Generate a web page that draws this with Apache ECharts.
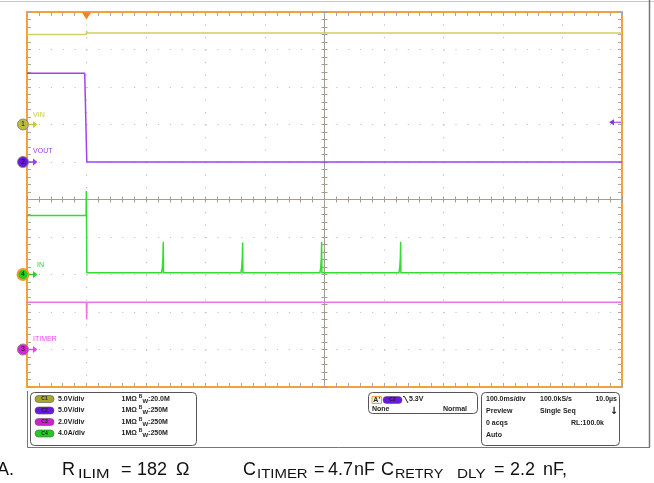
<!DOCTYPE html>
<html><head><meta charset="utf-8">
<script src="https://cdn.jsdelivr.net/npm/echarts@6/dist/echarts.min.js"></script>
<style>html,body{margin:0;padding:0;background:#fff}#c{width:654px;height:483px}</style>
</head><body><div id="c"></div><script>
// ---- data (time in ms, 100 ms/div) ----
const timeVin   = [0, 99.6, 100.1, 100.8, 1000];
const vin       = [12.0, 12.0, 12.5, 12.2, 12.2];          // CH1, V
const timeVout  = [0, 97, 99.6, 100.5, 1000];
const vout      = [11.85, 11.85, 11.6, 0, 0];               // CH2, V
const timeIin   = [0, 99.3, 99.7, 100.6,
                   226, 227.5, 228.5, 229, 229.4,
                   359.4, 360.9, 361.9, 362.4, 362.8,
                   492.2, 493.7, 494.7, 495.2, 495.6,
                   625, 626.5, 627.5, 628, 628.4, 1000];
const iin       = [6.3, 6.3, 8.9, 0.18,
                   0.18, 0.7, 1.8, 3.5, 0.18,
                   0.18, 0.7, 1.8, 3.4, 0.18,
                   0.18, 0.7, 1.8, 3.5, 0.18,
                   0.18, 0.7, 1.8, 3.5, 0.18, 0.18];      // CH4, A
const timeTimer = [0, 99.8, 100.3, 100.8, 1000];
const vtimer    = [2.52, 2.52, 1.6, 2.52, 2.52];            // CH3, V
const trigTime = 100, trigLevel = 5.3;
const chNames = ['VIN', 'VOUT', 'ITIMER', 'IN'];

const pairs = (t, v) => t.map((x, i) => [x, v[i]]);

const ORANGE = '#f4a13a', TICK = '#a8a8a8', DOT = '#c4c4c4', CROSS = '#a99c8c';
const C = {vin:'#d0d060', vout:'#a040f0', tim:'#f070f0', iin:'#30dd30'};

function xa(pos, extra) {
  return Object.assign({type:'value', min:0, max:1000, interval:100, position:pos,
    axisLabel:{show:false}, splitLine:{show:false},
    axisLine:{show:true, onZero:false, lineStyle:{color:ORANGE, width:2}},
    axisTick:{show:true, inside:true, length:4, lineStyle:{color:TICK}},
    minorTick:{show:true, splitNumber:5, length:4, lineStyle:{color:TICK}}}, extra||{});
}
function ya(pos, extra) {
  return Object.assign({type:'value', min:-5, max:5, interval:1, position:pos,
    axisLabel:{show:false}, splitLine:{show:false},
    axisLine:{show:true, onZero:false, lineStyle:{color:ORANGE, width:2}},
    axisTick:{show:true, inside:true, length:4, lineStyle:{color:TICK}},
    minorTick:{show:true, splitNumber:5, length:4, lineStyle:{color:TICK}}}, extra||{});
}
const crossLine = {show:true, onZero:false, lineStyle:{color:CROSS, width:1}};
const xAxes = [
  xa('bottom', {splitLine:{show:true, lineStyle:{color:DOT, width:1.2, type:[1.2, 11.3]}}}),
  xa('top'),
  xa('bottom', {offset:-187.5, axisLine:crossLine, axisTick:{show:true, inside:true, length:3, lineStyle:{color:CROSS}}, minorTick:{show:true, splitNumber:5, length:3, lineStyle:{color:CROSS}}}),
  xa('bottom', {offset:-187.5, axisLine:crossLine, axisTick:{show:true, inside:false, length:3, lineStyle:{color:CROSS}}, minorTick:{show:true, splitNumber:5, length:3, lineStyle:{color:CROSS}}})
];
const yAxes = [
  ya('left', {splitLine:{show:true, lineStyle:{color:DOT, width:1.2, type:[1.2, 10.7]}}}),
  ya('right'),
  ya('left', {offset:-297.5, axisLine:crossLine, axisTick:{show:true, inside:true, length:3, lineStyle:{color:CROSS}}, minorTick:{show:true, splitNumber:5, length:3, lineStyle:{color:CROSS}}}),
  ya('left', {offset:-297.5, axisLine:crossLine, axisTick:{show:true, inside:false, length:3, lineStyle:{color:CROSS}}, minorTick:{show:true, splitNumber:5, length:3, lineStyle:{color:CROSS}}}),
  // channel scales: 10 div, ground offsets
  {type:'value', show:false, min:-35, max:15},  // CH1 5 V/div, gnd +2 div
  {type:'value', show:false, min:-30, max:20},  // CH2 5 V/div, gnd +1 div
  {type:'value', show:false, min:-2, max:18},   // CH3 2 V/div, gnd -4 div
  {type:'value', show:false, min:-12, max:28}   // CH4 4 A/div, gnd -2 div
];

function chMarks(num, name, fill, ring, txt, lblOff) {
  return [
    {coord:[0,0], symbol:'circle', symbolSize:11, symbolOffset:[-4,0],
     itemStyle:{color:fill, borderColor:ring, borderWidth:ring==='#f39a1e'?2:1},
     label:{show:true, formatter:String(num), position:'inside', color:'#111', fontSize:7, fontFamily:'Arial'}},
    {coord:[0,0], symbol:'path://M0,3.2 L5,3.2 L5,0 L10,4 L5,8 L5,4.8 L0,4.8 Z', symbolSize:[9,7], symbolOffset:[6,0],
     itemStyle:{color:txt}, label:{show:false}},
    {coord:[0,0], symbol:'circle', symbolSize:0.1, itemStyle:{color:'rgba(0,0,0,0)'},
     label:{show:true, formatter:name, position:'right', distance:0, offset:lblOff, color:txt, fontSize:7, fontFamily:'Arial'}}
  ];
}

const series = [
  {name:'VIN', type:'line', xAxisIndex:0, yAxisIndex:4, data:pairs(timeVin, vin), showSymbol:false,
   lineStyle:{color:C.vin, width:1.5}, z:5,
   markPoint:{animation:false, data:chMarks(1, chNames[0], '#bcbc3c', '#888', '#c8c83c', [6,-9]).concat([
     {coord:[trigTime, 15], symbol:'triangle', symbolRotate:180, symbolSize:[9,7], symbolOffset:[0,4],
      itemStyle:{color:'#f5821f'}, label:{show:false}}])}},
  {name:'VOUT', type:'line', xAxisIndex:0, yAxisIndex:5, data:pairs(timeVout, vout), showSymbol:false,
   lineStyle:{color:C.vout, width:1.5}, z:5,
   markPoint:{animation:false, data:chMarks(2, chNames[1], '#6a14e0', '#888', '#9a3cf0', [6,-11]).concat([
     {coord:[1000, trigLevel], symbol:'path://M0,4 L5,0 L5,3.3 L12,3.3 L12,4.7 L5,4.7 L5,8 Z', symbolSize:[12,6], symbolOffset:[-7,0],
      itemStyle:{color:'#8a30f0'}, label:{show:false}}])}},
  {name:'ITIMER', type:'line', xAxisIndex:0, yAxisIndex:6, data:pairs(timeTimer, vtimer), showSymbol:false,
   lineStyle:{color:C.tim, width:1.5}, z:5,
   markPoint:{animation:false, data:chMarks(3, chNames[2], '#e020e0', '#888', '#ee44ee', [6,-10])}},
  {name:'IN', type:'line', xAxisIndex:0, yAxisIndex:7, data:pairs(timeIin, iin), showSymbol:false,
   lineStyle:{color:C.iin, width:1.5}, z:5,
   markPoint:{animation:false, data:chMarks(4, chNames[3], '#22cc22', '#f39a1e', '#33cc33', [10,-9])}}
];

const F = 'bold 7px "Liberation Sans", Arial, sans-serif';
function t(x, y, s, align, extra) {
  return Object.assign({type:'text', z:10, style:{x:x, y:y, text:s, font:F, fill:'#222', textAlign:align||'left', textVerticalAlign:'middle'}}, extra||{});
}
function pill(x, y, col, lab) {
  return [
    {type:'rect', z:10, shape:{x:x, y:y-3.5, width:19, height:7, r:3.5}, style:{fill:col, stroke:'#555', lineWidth:0.6}},
    {type:'text', z:11, style:{x:x+9.5, y:y, text:lab, font:'bold 5px Arial', fill:'#222', textAlign:'center', textVerticalAlign:'middle'}}
  ];
}
const rowsY = [399, 410.5, 422, 433.5];
const pillCols = ['#a8a828', '#6a18e0', '#d21ed2', '#22cc22'];
const pillLab = ['C1','C2','C3','C4'];
const vdiv = ['5.0V/div','5.0V/div','2.0V/div','4.0A/div'];
const bw = ['20.0M','250M','250M','250M'];

let graphic = [
  {type:'line', z:10, shape:{x1:0, y1:1.5, x2:654, y2:1.5}, style:{stroke:'#c8c8c8', lineWidth:1}},
  {type:'line', z:10, shape:{x1:649.5, y1:0, x2:649.5, y2:447.5}, style:{stroke:'#777', lineWidth:1.5}},
  {type:'polyline', z:10, shape:{points:[[27.5,391],[27.5,447.5],[650,447.5]]}, style:{stroke:'#777', lineWidth:1, fill:null}},
  {type:'rect', z:10, shape:{x:30.5, y:392.5, width:166, height:53, r:4}, style:{fill:'#fff', stroke:'#555', lineWidth:1}},
  {type:'rect', z:10, shape:{x:368.5, y:392.5, width:109, height:21, r:4}, style:{fill:'#fff', stroke:'#555', lineWidth:1}},
  {type:'rect', z:10, shape:{x:481.5, y:392.5, width:138, height:53, r:4}, style:{fill:'#fff', stroke:'#555', lineWidth:1}}
];
rowsY.forEach((y, i) => {
  graphic = graphic.concat(pill(35, y, pillCols[i], pillLab[i]));
  graphic.push(t(58, y, vdiv[i]));
  graphic.push({type:'text', z:10, style:{x:121.5, y:y, textVerticalAlign:'middle',
    text:'{a|1MΩ }{b|B}{c|W}{a|:' + bw[i] + '}',
    rich:{a:{font:F, fill:'#222'}, b:{font:'bold 5px Arial', fill:'#222', verticalAlign:'top', padding:[0,0,4,0]}, c:{font:'bold 6px Arial', fill:'#222', padding:[4,0,0,0]}}}});
});
// trigger box
graphic.push({type:'rect', z:10, shape:{x:372, y:396.5, width:9.5, height:7}, style:{fill:'#f2f2f2', stroke:ORANGE, lineWidth:1}});
graphic.push(t(376.7, 400, "A'", 'center', {}));
graphic = graphic.concat(pill(383, 400, '#6a18e0', 'C2'));
graphic.push({type:'polyline', z:10, shape:{points:[[403,396.5],[404.5,396.5],[408,403]]}, style:{stroke:'#222', lineWidth:1, fill:null}});
graphic.push(t(409, 399.5, '5.3V'));
graphic.push(t(372, 409.5, 'None'));
graphic.push(t(467, 409.5, 'Normal', 'right'));
// acquisition box
graphic.push(t(486, 399.5, '100.0ms/div'));
graphic.push(t(540, 399.5, '100.0kS/s'));
graphic.push(t(617, 399.5, '10.0µs', 'right'));
graphic.push(t(486, 411, 'Preview'));
graphic.push(t(540, 411, 'Single Seq'));
graphic.push({type:'text', z:10, style:{x:614, y:411.5, text:'↓', font:'bold 10px "DejaVu Sans"', fill:'#111', textAlign:'center', textVerticalAlign:'middle'}});
graphic.push(t(486, 423, '0 acqs'));
graphic.push(t(604, 423, 'RL:100.0k', 'right'));
graphic.push(t(486, 435, 'Auto'));

// caption (justified text: tokens placed individually)
const MF = '18px "Liberation Sans", Arial, sans-serif';
const SF = '13px "Liberation Sans", Arial, sans-serif';
function cap(x, s) { return {type:'text', z:10, style:{x:x, y:479.5, text:s, font:MF, fill:'#111', textVerticalAlign:'bottom'}}; }
function sub(x, s, sx) { return {type:'text', z:10, x:x, y:481, scaleX:sx, style:{x:0, y:0, text:s, font:SF, fill:'#111', textVerticalAlign:'bottom'}}; }
graphic.push(cap(-3, 'A.'));
graphic.push(cap(62, 'R'));
graphic.push(sub(78, 'ILIM', 1.25));
graphic.push(cap(121, '='));
graphic.push(cap(137, '182'));
graphic.push(cap(176, 'Ω'));
graphic.push(cap(243, 'C'));
graphic.push(sub(257, 'ITIMER', 1.15));
graphic.push(cap(314, '='));
graphic.push(cap(328, '4.7'));
graphic.push(cap(354, 'nF'));
graphic.push(cap(381, 'C'));
graphic.push(sub(395, 'RETRY', 1.1));
graphic.push(sub(457, 'DLY', 1.18));
graphic.push(cap(494, '='));
graphic.push(cap(510, '2.2'));
graphic.push(cap(543, 'nF,'));

const chart = echarts.init(document.getElementById('c'), null, {renderer:'canvas'});
chart.setOption({
  animation:false,
  backgroundColor:'#fff',
  grid:{left:27, top:12, width:595, height:375, containLabel:false},
  xAxis:xAxes, yAxis:yAxes, series:series, graphic:graphic
});
</script></body></html>
